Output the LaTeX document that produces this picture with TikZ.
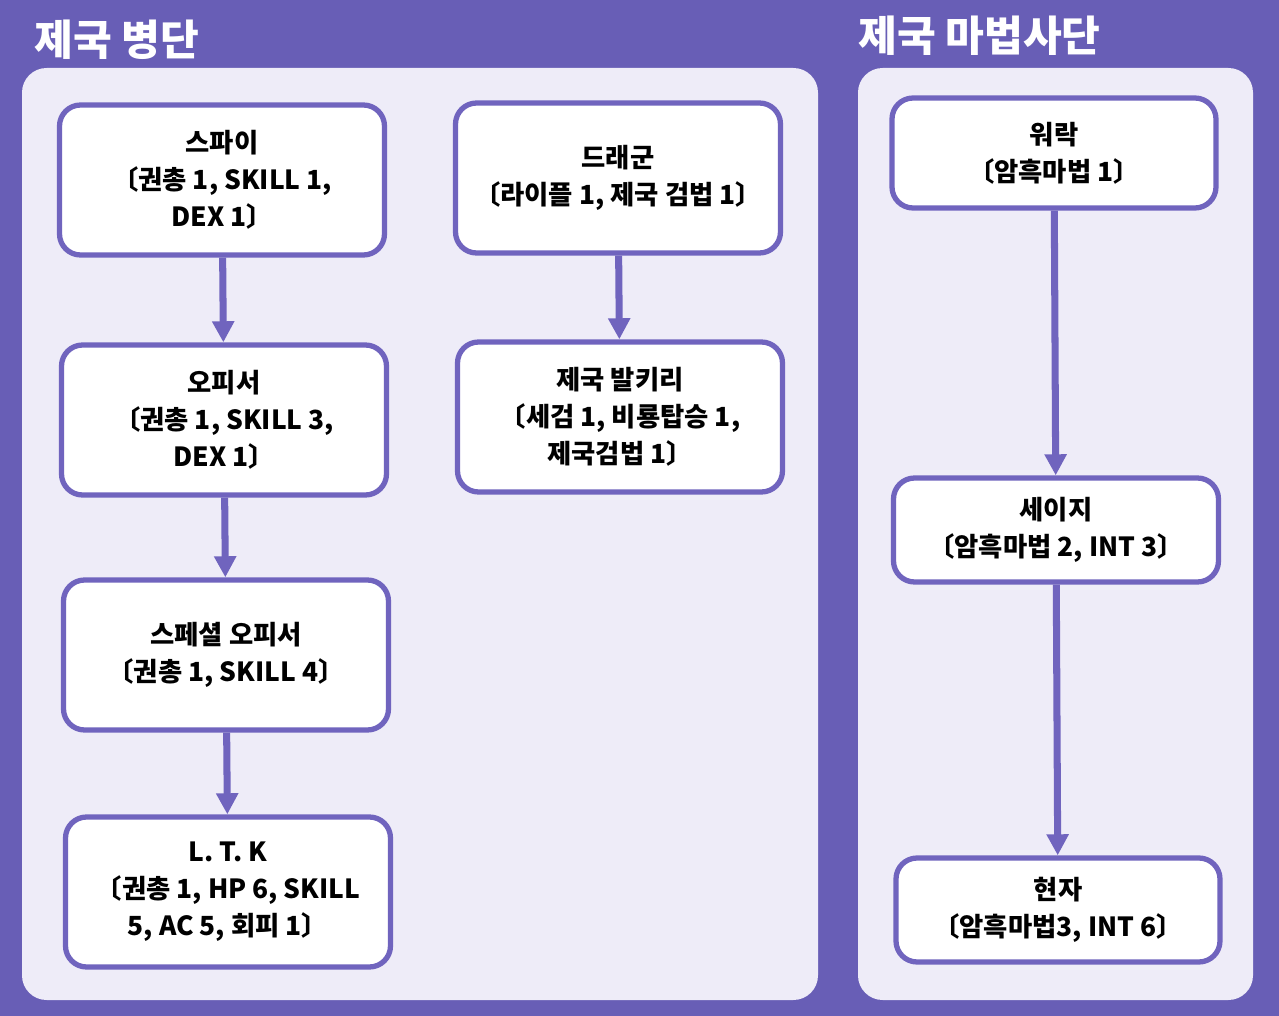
\documentclass[tikz,border=0pt]{standalone}
\usepackage{fontspec}
\setmainfont{Noto Sans CJK KR}
\usetikzlibrary{positioning,arrows.meta}
\definecolor{bandpurple}{RGB}{104,94,182}
\definecolor{panelbg}{RGB}{238,236,248}
\definecolor{boxline}{RGB}{112,100,190}
\tikzset{
  unitbox/.style={draw=boxline, line width=3pt, rounded corners=12pt, fill=white,
    align=center, font=\fontsize{15}{21}\selectfont\bfseries, inner sep=0pt},
  promote/.style={-{Triangle[length=12pt,width=12pt]}, draw=boxline, line width=4pt},
  paneltitle/.style={font=\fontsize{24}{28}\selectfont\bfseries, text=white, anchor=west}
}
\begin{document}
\begin{tikzpicture}[x=0.02cm,y=-0.02cm]
        % Background and panels
        \fill[bandpurple] (0,0) rectangle (1279,1016);
        \fill[panelbg, rounded corners=14pt] (22,68) rectangle (818,1000);
        \fill[panelbg, rounded corners=14pt] (858,68) rectangle (1253,1000);
        \node[paneltitle] (armytitle) at (28,40) {제국 병단};
        \node[paneltitle] (magetitle) at (852,36) {제국 마법사단};

        % Army units
        \node[unitbox, minimum width=325*0.02cm, minimum height=150*0.02cm] (spy) at (222,180) {스파이\\〔권총 1, SKILL 1,\\DEX 1〕};
        \node[unitbox, minimum width=325*0.02cm, minimum height=150*0.02cm] (officer) at (224,420) {오피서\\〔권총 1, SKILL 3,\\DEX 1〕};
        \node[unitbox, minimum width=325*0.02cm, minimum height=150*0.02cm] (special) at (226,655) {스페셜 오피서\\〔권총 1, SKILL 4〕};
        \node[unitbox, minimum width=325*0.02cm, minimum height=150*0.02cm] (ltk) at (228,892) {L. T. K\\〔권총 1, HP 6, SKILL\\5, AC 5, 회피 1〕};
        \node[unitbox, minimum width=325*0.02cm, minimum height=150*0.02cm] (dragoon) at (618,178) {드래군\\〔라이플 1, 제국 검법 1〕};
        \node[unitbox, minimum width=325*0.02cm, minimum height=150*0.02cm] (valkyrie) at (620,417) {제국 발키리\\〔세검 1, 비룡탑승 1,\\제국검법 1〕};

        % Mage units
        \node[unitbox, minimum width=324*0.02cm, minimum height=110*0.02cm] (warlock) at (1054,153) {워락\\〔암흑마법 1〕};
        \node[unitbox, minimum width=325*0.02cm, minimum height=104*0.02cm] (sage) at (1056,530) {세이지\\〔암흑마법 2, INT 3〕};
        \node[unitbox, minimum width=324*0.02cm, minimum height=104*0.02cm] (archsage) at (1058,910) {현자\\〔암흑마법3, INT 6〕};

        % Promotions
        \draw[promote] (spy) -- (officer);
        \draw[promote] (officer) -- (special);
        \draw[promote] (special) -- (ltk);
        \draw[promote] (dragoon) -- (valkyrie);
        \draw[promote] (warlock) -- (sage);
        \draw[promote] (sage) -- (archsage);
\end{tikzpicture}
\end{document}
